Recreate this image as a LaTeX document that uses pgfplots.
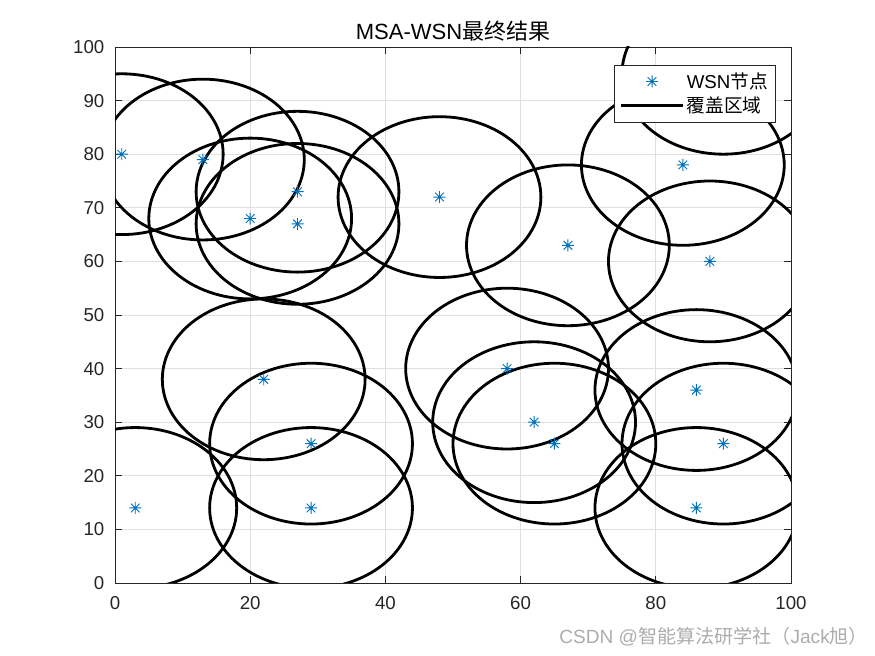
\documentclass[border=0pt]{standalone}
\usepackage{pgfplots}
\pgfplotsset{compat=1.18}
\usepackage{pgfplotstable}
\usepackage{fontspec}
\setmainfont{Liberation Sans}
\newfontfamily\cjk{Noto Sans CJK SC}

\definecolor{mblue}{RGB}{0,114,189}
\definecolor{maxis}{RGB}{38,38,38}
\definecolor{mgrid}{RGB}{223,223,223}

% MATLAB style '*' marker: plus and cross together
\pgfdeclareplotmark{mstar}{%
  \pgfpathmoveto{\pgfpoint{0pt}{\pgfplotmarksize}}\pgfpathlineto{\pgfpoint{0pt}{-\pgfplotmarksize}}%
  \pgfpathmoveto{\pgfpoint{\pgfplotmarksize}{0pt}}\pgfpathlineto{\pgfpoint{-\pgfplotmarksize}{0pt}}%
  \pgfpathmoveto{\pgfpoint{0.72\pgfplotmarksize}{0.72\pgfplotmarksize}}\pgfpathlineto{\pgfpoint{-0.72\pgfplotmarksize}{-0.72\pgfplotmarksize}}%
  \pgfpathmoveto{\pgfpoint{-0.72\pgfplotmarksize}{0.72\pgfplotmarksize}}\pgfpathlineto{\pgfpoint{0.72\pgfplotmarksize}{-0.72\pgfplotmarksize}}%
  \pgfusepathqstroke}

% sensor nodes (coverage radius 15)
\pgfplotstableread{
x  y
1  80
13 79
20 68
27 73
27 67
48 72
67 63
84 78
88 60
90 95
22 38
29 26
29 14
3  14
58 40
62 30
65 26
86 36
90 26
86 14
}\nodes
\pgfplotstablegetrowsof{\nodes}
\pgfmathtruncatemacro\lastrow{\pgfplotsretval-1}

\begin{document}
\begin{tikzpicture}
\path[use as bounding box] (-86.25pt,-54.75pt) rectangle (570pt,437.25pt);
\begin{axis}[
  scale only axis, width=507pt, height=402pt,
  xmin=0, xmax=100, ymin=0, ymax=100,
  xtick={0,20,...,100}, ytick={0,10,...,100},
  grid=major, grid style={mgrid, line width=0.6pt},
  tick align=inside, major tick length=5pt,
  tick style={maxis, line width=0.6pt},
  axis line style={maxis, line width=0.6pt},
  /pgf/number format/assume math mode=true,
  ticklabel style={font=\fontsize{14}{17}\selectfont, text=maxis},
  xticklabel style={yshift=-6.5pt},
  yticklabel style={xshift=-4.5pt},
  title={MSA-WSN{\cjk 最终结果}},
  title style={font=\fontsize{16.5}{19}\selectfont, text=black, at={(0.5,1)}, anchor=base, yshift=-0.5pt},
  legend style={at={(1,1)}, anchor=north east, xshift=-11.25pt, yshift=-13.5pt,
    draw=maxis, line width=0.5pt, fill=white, font=\fontsize{14}{17}\selectfont,
    inner xsep=4pt, inner ysep=3.5pt, row sep=1pt},
  legend cell align=left,
  legend image code/.code={\draw[mark repeat=2, mark phase=2, #1] plot coordinates {(0pt,0pt) (23pt,0pt) (46pt,0pt)};},
]
\pgfplotsforeachungrouped \i in {0,...,\lastrow}{%
  \pgfplotstablegetelem{\i}{x}\of\nodes \let\cx\pgfplotsretval
  \pgfplotstablegetelem{\i}{y}\of\nodes \let\cy\pgfplotsretval
  \edef\temp{\noexpand\addplot[black, line width=2.1pt, domain=0:360, samples=121, forget plot]
    ({\cx+15*cos(x)},{\cy+15*sin(x)});}%
  \temp
}
\addplot[only marks, mark=mstar, mark size=4.5pt, mblue, line width=0.7pt] table[x=x, y=y] {\nodes};
\addlegendentry{WSN{\cjk 节点}}
\addlegendimage{black, line width=2.1pt}
\addlegendentry{{\cjk 覆盖区域}}
\end{axis}
\node[text=gray!65, font=\fontsize{14.3}{17}\selectfont] at (449pt,-40.5pt) {CSDN @{\cjk 智能算法研学社（}Jack{\cjk 旭）}};
\end{tikzpicture}
\end{document}
